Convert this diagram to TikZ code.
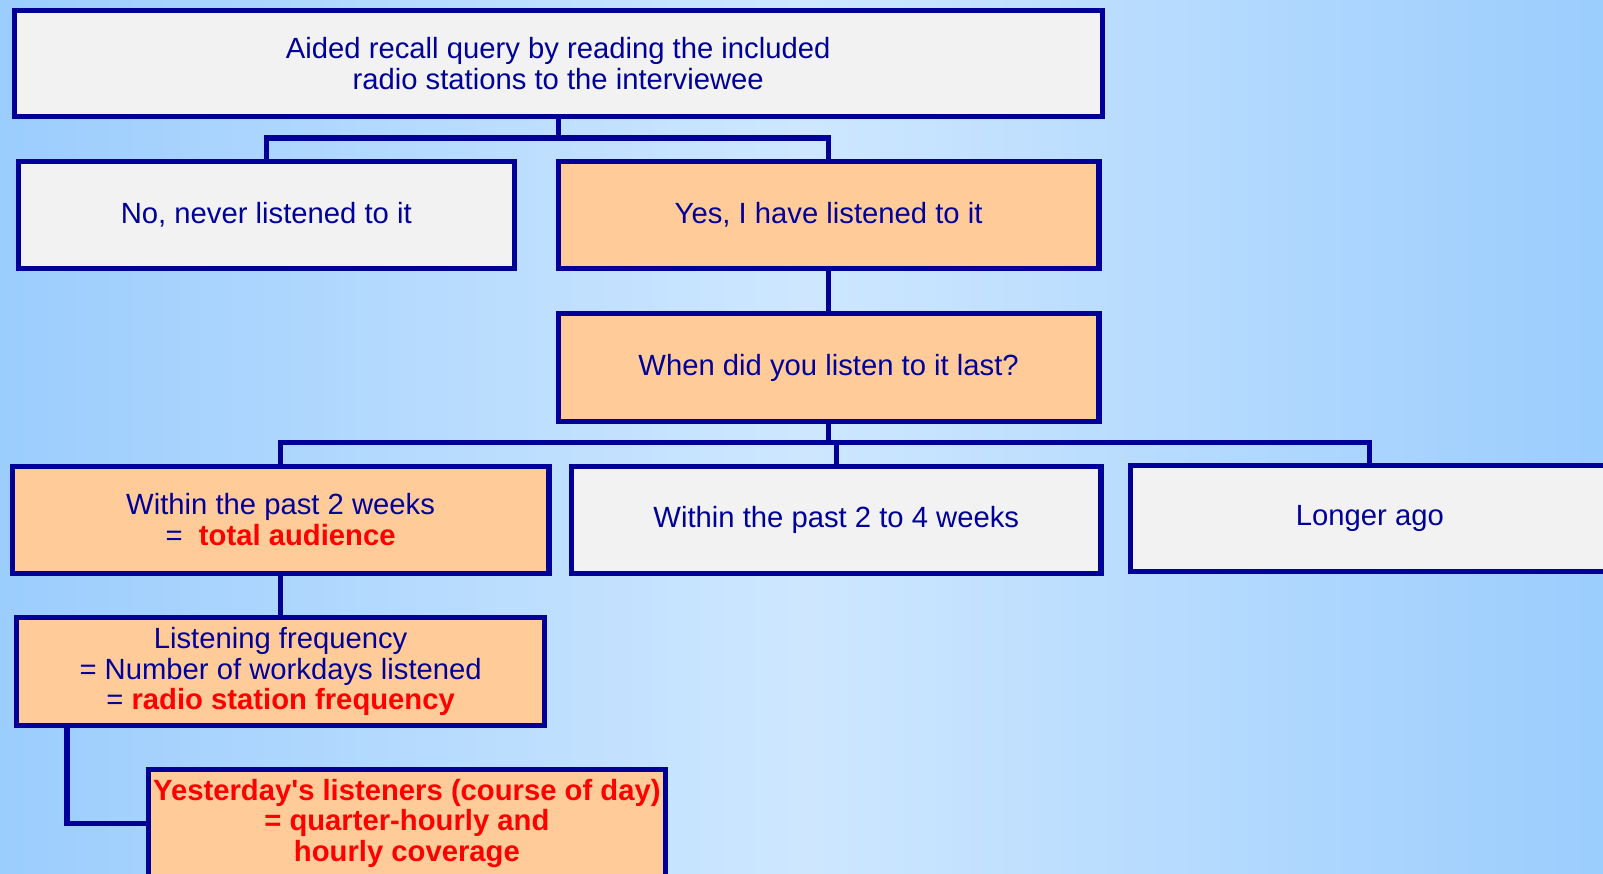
\documentclass[tikz,border=0pt]{standalone}
\usepackage{fontspec}
\setmainfont{Liberation Sans}
\definecolor{dblue}{RGB}{0,0,153}
\definecolor{orng}{RGB}{255,204,153}
\definecolor{lgrey}{RGB}{242,242,242}
\definecolor{bgedge}{RGB}{155,205,253}
\definecolor{bgmid}{RGB}{206,231,255}
\definecolor{hired}{RGB}{255,0,0}
\tikzset{
  box/.style={draw=dblue, line width=5pt, line join=miter, rectangle, align=center,
    inner sep=0pt, text=dblue, font=\fontsize{28.6}{30}\selectfont},
  greybox/.style={box, fill=lgrey},
  orangebox/.style={box, fill=orng},
  link/.style={draw=dblue, line width=5pt, line join=miter}
}
\newcommand{\redtxt}[1]{{\color{hired}\bfseries #1}}
\begin{document}
\begin{tikzpicture}[x=1pt,y=-1pt]
\useasboundingbox (0,0) rectangle (1568,854);
\clip (0,0) rectangle (1568,854);
\shade[left color=bgedge, right color=bgedge, middle color=bgmid] (0,0) rectangle (1568,854);

\node[greybox, minimum width=1064pt, minimum height=104pt] (top) at (546,62)
  {Aided recall query by reading the included\\radio stations to the interviewee};
\node[greybox, minimum width=485pt, minimum height=105pt] (no) at (260.5,210.5)
  {No, never listened to it};
\node[orangebox, minimum width=529pt, minimum height=105pt] (yes) at (810.5,210.5)
  {Yes, I have listened to it};
\node[orangebox, minimum width=529pt, minimum height=105pt] (when) at (810.5,359.5)
  {When did you listen to it last?};
\node[orangebox, minimum width=525pt, minimum height=105pt] (w2) at (274.5,508.5)
  {Within the past 2 weeks\\=\ \ \redtxt{total audience}};
\node[greybox, minimum width=518pt, minimum height=105pt] (w24) at (818,508.5)
  {Within the past 2 to 4 weeks};
\node[greybox, minimum width=468pt, minimum height=104pt] (longer) at (1340,507)
  {Longer ago};
\node[orangebox, minimum width=517pt, minimum height=106pt] (listen) at (274.5,657)
  {Listening frequency\\= Number of workdays listened\\= \redtxt{radio station frequency}};
\node[orangebox, minimum width=506pt, minimum height=105pt] (yest) at (398,805.5)
  {\redtxt{Yesterday\textquotesingle s listeners (course of day)}\\\redtxt{= quarter-hourly and}\\\redtxt{hourly coverage}};

\coordinate (j1) at (546,135);
\coordinate (j2) at (810.5,433);
\draw[link] (top.south) -- (j1);
\draw[link] (no.north) |- (j1) -| (yes.north);
\draw[link] (yes.south) -- (when.north);
\draw[link] (when.south) -- (j2);
\draw[link] (w2.north) |- (j2) -| (longer.north);
\draw[link] (w24.north) -- (w24.north |- j2);
\draw[link] (w2.south) -- (listen.north);
\draw[link] ([xshift=52pt]listen.south west) |- (yest.west);
\end{tikzpicture}
\end{document}
